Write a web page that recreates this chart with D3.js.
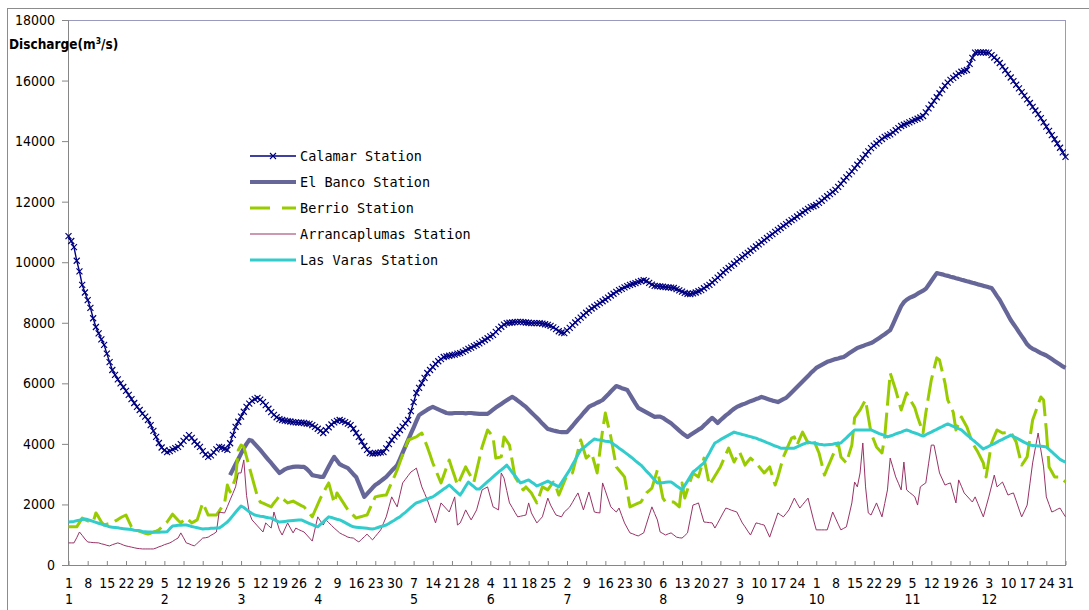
<!DOCTYPE html>
<html>
<head>
<meta charset="utf-8">
<script src="https://cdn.jsdelivr.net/npm/d3@7"></script>
<style>
  html, body { margin: 0; padding: 0; background: #ffffff; }
  svg { display: block; }
</style>
</head>
<body>
<svg id="chart" width="1089" height="610"></svg>
<script>
// Daily discharge (m3/s), day index 0 = 1 January of a 365-day year.
const calamar = [
10860,10700,10500,10050,9700,9250,9000,8750,8490,8150,
7860,7650,7450,7270,6980,6700,6440,6280,6130,6000,
5880,5750,5620,5480,5350,5220,5120,5000,4900,4790,
4620,4430,4230,4030,3880,3790,3730,3760,3820,3860,
3900,3990,4100,4200,4290,4200,4080,3980,3900,3760,
3650,3570,3620,3720,3820,3900,3880,3840,3800,4020,
4300,4560,4730,4900,5060,5220,5330,5420,5480,5520,
5460,5380,5280,5160,5050,4960,4880,4820,4790,4770,
4750,4740,4720,4710,4700,4700,4690,4670,4660,4620,
4560,4500,4430,4360,4450,4550,4640,4710,4760,4790,
4760,4720,4670,4620,4500,4360,4230,4080,3930,3800,
3700,3680,3690,3700,3720,3730,3850,3990,4130,4240,
4350,4460,4570,4680,4790,5080,5380,5680,5850,6010,
6180,6340,6440,6540,6640,6730,6800,6870,6890,6910,
6930,6950,6980,7000,7040,7090,7140,7180,7230,7270,
7320,7380,7430,7490,7550,7600,7700,7790,7870,7940,
7990,8000,8010,8020,8030,8030,8020,8010,8000,7990,
7990,7990,7990,7970,7950,7930,7900,7850,7790,7720,
7680,7660,7750,7830,7920,8010,8090,8170,8250,8330,
8400,8470,8530,8590,8650,8710,8770,8830,8900,8960,
9020,9080,9120,9170,9210,9250,9280,9310,9350,9380,
9410,9380,9320,9260,9220,9210,9200,9190,9180,9170,
9160,9150,9110,9070,9030,8990,8960,8950,8970,9000,
9040,9080,9140,9200,9250,9330,9410,9490,9570,9660,
9740,9810,9880,9950,10030,10100,10170,10240,10310,10380,
10450,10520,10590,10660,10730,10800,10870,10930,11000,11070,
11130,11200,11260,11330,11390,11450,11510,11580,11640,11700,
11760,11820,11850,11890,11960,12030,12110,12180,12250,12320,
12390,12490,12590,12700,12800,12900,13000,13110,13220,13330,
13440,13550,13660,13770,13850,13920,14000,14070,14140,14180,
14220,14290,14360,14430,14500,14540,14580,14620,14660,14700,
14740,14780,14830,14950,15080,15200,15330,15450,15580,15700,
15830,15930,16020,16090,16160,16230,16290,16320,16350,16550,
16750,16920,16930,16930,16930,16920,16920,16840,16760,16670,
16580,16460,16340,16220,16100,15980,15860,15740,15620,15500,
15380,15260,15130,15010,14890,14760,14620,14480,14340,14200,
14060,13920,13780,13630,13480];

// El Banco record begins on day index 59 (28 February)
const elBancoStart = 59;
const elBanco = [
2970,
3150,3330,3500,3680,3850,4000,4130,4100,4000,3900,
3800,3690,3580,3470,3370,3260,3150,3040,3100,3160,
3200,3220,3240,3250,3250,3240,3240,3170,3080,2970,
2950,2930,2910,2910,3080,3250,3420,3570,3450,3330,
3280,3240,3200,3100,3000,2910,2690,2470,2250,2350,
2450,2550,2640,2700,2770,2840,2910,3010,3110,3200,
3300,3500,3710,3920,4130,4340,4540,4750,4950,5010,
5070,5130,5180,5220,5180,5140,5100,5060,5020,5010,
5010,5020,5020,5020,5020,5010,5020,5020,5010,5000,
4990,4990,4990,4990,5060,5130,5200,5260,5320,5380,
5440,5500,5550,5500,5430,5360,5290,5220,5130,5040,
4950,4860,4770,4670,4580,4490,4470,4440,4420,4400,
4390,4390,4390,4490,4590,4700,4810,4910,5020,5120,
5220,5270,5310,5360,5400,5450,5540,5630,5730,5820,
5910,5880,5840,5810,5780,5630,5480,5330,5190,5140,
5090,5040,4990,4940,4890,4900,4900,4860,4800,4740,
4680,4600,4520,4440,4360,4290,4230,4290,4350,4410,
4470,4520,4610,4690,4780,4860,4780,4690,4780,4860,
4940,5010,5090,5160,5220,5260,5300,5330,5370,5410,
5440,5480,5510,5550,5520,5490,5460,5430,5410,5380,
5430,5480,5520,5610,5700,5790,5880,5970,6060,6150,
6240,6340,6420,6510,6560,6610,6660,6710,6740,6770,
6800,6820,6850,6870,6930,6990,7050,7110,7170,7200,
7230,7270,7300,7330,7380,7440,7500,7560,7620,7690,
7760,7950,8150,8350,8550,8680,8760,8820,8860,8900,
8960,9010,9060,9120,9250,9380,9510,9640,9620,9600,
9570,9550,9520,9500,9470,9450,9420,9400,9370,9350,
9320,9300,9270,9250,9220,9200,9170,9150,9020,8880,
8750,8590,8420,8260,8090,7960,7830,7690,7560,7430,
7290,7200,7140,7100,7050,7000,6960,6920,6860,6800,
6740,6680,6620,6560,6510];

const berrio = [
1260,1260,1260,1260,1400,1550,1500,1460,1430,1420,
1720,1580,1420,1320,1350,1370,1390,1450,1500,1560,
1610,1650,1450,1260,1200,1150,1110,1080,1050,1020,
1050,1090,1120,1160,1250,1340,1420,1550,1680,1580,
1480,1390,1470,1550,1470,1390,1440,1490,1770,2050,
1850,1650,1650,1650,1650,1780,1920,2050,2640,2410,
2640,2870,3800,3960,3900,3570,3240,2910,2580,2250,
2080,2040,2000,1960,1920,2050,2160,2280,2200,2130,
2050,2080,2110,2060,2010,1960,1920,1810,1700,1590,
1800,2000,2210,2380,2550,2710,2380,2050,2380,2240,
2100,1960,1820,1730,1640,1550,1580,1600,1630,1650,
1850,2050,2250,2270,2290,2300,2310,2520,2730,2930,
3140,3390,3640,3880,4130,4160,4200,4230,4300,4360,
4130,3900,3640,3370,3150,2930,2710,2960,3220,3470,
3190,2920,2640,2840,3040,3240,3070,2910,2740,3120,
3510,3900,4180,4460,4350,4230,3530,3550,3570,4230,
4100,3960,3440,2910,2770,2620,2480,2580,2480,2380,
2210,2050,2310,2580,2530,2480,2610,2740,2580,2310,
2530,2750,2970,3000,3040,3400,3770,4130,3830,3530,
3610,3700,3370,3040,3750,4460,5020,4620,4230,3740,
3240,3130,3020,2910,2410,1920,1960,2000,2040,2080,
2230,2380,2460,2540,2840,3140,2680,2210,2080,2080,
2080,2080,2000,1920,2710,2210,2490,2770,3040,2970,
2910,3220,3530,3090,2640,2790,2940,3090,3240,3450,
3660,3860,3630,3400,3570,3730,3520,3300,3420,3530,
3450,3370,3260,3150,3040,3140,3240,2940,2640,2910,
3240,3570,3780,3990,4190,4230,3960,4180,4390,4210,
4030,4080,4130,3920,3700,3340,2970,3190,3400,3610,
3820,4030,3570,3470,3370,3670,3960,4860,4990,5120,
5290,5450,4900,4360,4130,3900,3800,3700,4230,5290,
6340,6060,5780,5450,5120,5400,5680,5520,5350,5190,
4890,4630,4360,5020,5570,6110,6480,6840,6770,6390,
6010,5450,5250,5050,4460,4680,4890,4720,4560,4300,
4030,3880,3730,3550,3370,2910,3470,4030,4250,4460,
4410,4360,4370,4380,4390,4230,4060,3680,3300,3430,
3570,4180,4790,5040,5300,5550,5450,4460,3240,3080,
2910,2910,2910,2830,2740];

const arrancaplumas = [
730,730,730,900,1090,980,860,760,750,740,
735,730,700,680,650,630,670,700,730,700,
660,630,610,590,570,550,540,530,530,530,
530,530,560,600,630,670,700,730,780,840,
890,1060,900,730,700,660,630,720,800,890,
900,920,980,1030,1090,1750,1730,1720,1930,2150,
2360,2580,3040,3040,3470,2300,1720,1490,1390,1290,
1190,1090,1390,1300,1220,1750,1450,1160,990,1190,
1390,1220,1060,1220,1170,1130,1090,990,890,790,
1190,1590,1450,1320,1490,1400,1310,1220,1140,1060,
1010,970,920,900,890,820,760,850,930,1020,
920,830,940,1050,1160,1380,1590,1920,2250,2080,
1920,2320,2710,2830,2950,3070,3130,3200,2890,2580,
2370,2150,1900,1650,1390,1720,2050,1950,1850,1750,
2000,2250,1320,1390,1590,1820,1650,1490,1650,1820,
2150,2480,2530,2580,2250,1920,1870,1820,3040,2870,
2460,2050,1900,1740,1590,1610,1630,1650,2050,1720,
1550,1390,1490,1590,1900,2210,1980,1810,1650,1620,
1590,1750,1830,1920,2070,2230,2380,2100,1820,2120,
2410,2080,1750,1730,1720,2710,2450,2180,1920,1830,
1750,1880,1630,1390,1220,1060,1030,990,960,1010,
1060,1350,1640,1920,1700,1490,1090,1040,990,1030,
1060,990,920,900,890,970,1060,1520,1980,2010,
2050,1730,1420,1410,1400,1390,1220,1380,1550,1720,
1880,1850,1810,1780,1750,1570,1390,1260,1120,990,
1190,1390,1370,1340,1320,1120,920,1190,1450,1720,
1650,1590,1700,1820,2010,2210,2040,1880,1990,2100,
2210,1850,1490,1160,1160,1160,1160,1160,1450,1750,
1550,1350,1160,1210,1260,1650,2050,2740,2580,3040,
4030,2580,1720,1650,1850,2050,1820,1590,2030,2480,
3530,3220,2910,2700,2480,3400,2480,2400,2330,2250,
1980,2580,2650,2710,3340,3960,3960,3500,3040,2840,
2640,2680,2710,2380,2050,2810,2600,2380,2280,2180,
2080,2250,2030,1810,1590,1920,2250,2610,2970,2580,
2660,2740,2530,2310,2350,2380,2120,1850,1590,1780,
1980,2680,3370,3870,4360,3800,3240,2250,2000,1750,
1790,1840,1880,1730,1590];

const lasVaras = [
1420,1430,1440,1460,1480,1500,1520,1500,1470,1440,
1410,1380,1350,1320,1290,1260,1250,1240,1230,1210,
1200,1190,1180,1170,1150,1140,1130,1110,1100,1090,
1090,1080,1080,1080,1090,1090,1100,1200,1290,1300,
1310,1310,1320,1320,1300,1270,1250,1230,1210,1190,
1200,1200,1210,1210,1220,1220,1280,1350,1420,1520,
1630,1740,1850,1950,1900,1830,1760,1700,1650,1630,
1610,1600,1580,1560,1550,1500,1460,1420,1430,1440,
1450,1460,1470,1480,1490,1490,1450,1410,1370,1330,
1290,1260,1340,1420,1510,1590,1570,1540,1510,1490,
1450,1400,1350,1300,1260,1250,1240,1230,1220,1210,
1200,1190,1210,1240,1270,1290,1320,1370,1430,1480,
1540,1590,1670,1740,1820,1900,1980,2050,2080,2120,
2150,2180,2220,2250,2310,2380,2440,2510,2570,2640,
2560,2470,2390,2310,2450,2600,2740,2660,2590,2510,
2510,2590,2670,2750,2830,2910,2990,3070,3140,3220,
3300,3180,3060,2950,2830,2710,2740,2780,2810,2740,
2680,2610,2650,2690,2730,2770,2720,2680,2630,2580,
2720,2860,3000,3140,3310,3470,3640,3800,3870,3940,
4020,4090,4160,4140,4130,4110,4090,4080,4060,3990,
3930,3860,3800,3730,3660,3590,3520,3440,3370,3300,
3200,3100,3010,2910,2810,2710,2720,2720,2730,2740,
2740,2680,2610,2550,2480,2630,2770,2920,3070,3140,
3220,3300,3370,3540,3700,3870,4030,4080,4140,4190,
4240,4290,4340,4390,4360,4340,4310,4290,4260,4240,
4210,4190,4150,4120,4080,4040,4010,3970,3930,3900,
3860,3860,3860,3860,3860,3860,3900,3940,3980,4020,
4060,4040,4030,4010,3990,3980,3960,3970,3980,3990,
4010,4020,4030,4120,4200,4290,4370,4460,4460,4460,
4460,4460,4460,4460,4420,4380,4340,4310,4270,4230,
4260,4290,4330,4360,4390,4430,4460,4430,4390,4360,
4330,4290,4260,4300,4350,4390,4440,4480,4530,4570,
4620,4660,4620,4580,4540,4500,4460,4380,4300,4220,
4140,4070,3990,3910,3830,3880,3920,3970,4010,4060,
4110,4150,4200,4240,4290,4240,4200,4150,4100,4050,
4010,3960,3950,3940,3930,3920,3910,3900,3820,3740,
3650,3570,3490,3440,3400];

// Axis ticks
const yTicks = [0, 2000, 4000, 6000, 8000, 10000, 12000, 14000, 16000, 18000];
const xTickDays = d3.range(0, 365, 7);   // every 7th day from 1 January
const yearStart = Date.UTC(2001, 0, 1);  // a non-leap reference year

const series = [
  { name: "Calamar Station",       start: 0,            values: calamar,       color: "#000080", width: 1.4, dash: null,   marker: true },
  { name: "El Banco Station",      start: elBancoStart, values: elBanco,       color: "#666699", width: 4.2, dash: null,   marker: false },
  { name: "Berrio Station",        start: 0,            values: berrio,        color: "#99cc00", width: 3,   dash: "26,7", marker: false },
  { name: "Arrancaplumas Station", start: 0,            values: arrancaplumas, color: "#993366", width: 1,   dash: null,   marker: false },
  { name: "Las Varas Station",     start: 0,            values: lasVaras,      color: "#33cccc", width: 3,   dash: null,   marker: false }
];

const svg = d3.select("#chart");
const tickFont = "'DejaVu Sans Condensed', 'DejaVu Sans', sans-serif";

// Outer chart frame
svg.append("rect")
  .attr("x", 7.5).attr("y", 8.5)
  .attr("width", 1200).attr("height", 700)
  .attr("fill", "none").attr("stroke", "#8c8c8c");

const x = d3.scaleLinear().domain([0, 364]).range([68.5, 1065.5]);
const y = d3.scaleLinear().domain([0, 18000]).range([565, 20]);

// Plot-area border
svg.append("rect")
  .attr("x", x(0)).attr("y", y(18000) + 0.5)
  .attr("width", x(364) - x(0)).attr("height", y(0) - y(18000))
  .attr("fill", "none").attr("stroke", "#9a9ac0");

// Y axis
const yAxis = svg.append("g")
  .attr("transform", `translate(${x(0) - 0.5},0)`)
  .call(d3.axisLeft(y).tickValues(yTicks).tickSize(6).tickPadding(7).tickFormat(d3.format("d")));
yAxis.select(".domain").attr("stroke", "#868686");
yAxis.selectAll(".tick line").attr("stroke", "#868686");
yAxis.selectAll(".tick text")
  .attr("fill", "#000").style("font-family", tickFont).style("font-size", "14px");

// X axis: day-of-month labels, with month number under the first label of each month
const dateOf = i => new Date(yearStart + i * 86400000);
const xAxis = svg.append("g")
  .attr("transform", `translate(0,${y(0)})`)
  .call(d3.axisBottom(x).tickValues(xTickDays).tickSizeInner(-4).tickSizeOuter(0).tickPadding(13)
        .tickFormat(i => dateOf(i).getUTCDate()));
xAxis.select(".domain").attr("stroke", "#868686");
xAxis.selectAll(".tick line").attr("stroke", "#868686");
xAxis.selectAll(".tick text")
  .attr("fill", "#000").style("font-family", tickFont).style("font-size", "14px");
xAxis.selectAll(".tick")
  .filter(i => dateOf(i).getUTCDate() <= 7)
  .append("text")
  .attr("y", 29).attr("dy", "0.71em")
  .attr("fill", "#000").attr("text-anchor", "middle")
  .style("font-family", tickFont).style("font-size", "14px")
  .text(i => dateOf(i).getUTCMonth() + 1);

// Y axis title
const title = svg.append("text")
  .attr("x", 9).attr("y", 49)
  .style("font-family", tickFont).style("font-size", "13.5px").style("font-weight", "bold")
  .attr("fill", "#000");
title.append("tspan").text("Discharge(m");
title.append("tspan").attr("dy", -5).style("font-size", "8.5px").text("3");
title.append("tspan").attr("dy", 5).text("/s)");

// Series lines
const line = d3.line()
  .defined(d => d.v != null)
  .x(d => x(d.day))
  .y(d => y(d.v));

const crossPath = "M-3,-3L3,3M-3,3L3,-3";

series.forEach(s => {
  const pts = s.values.map((v, k) => ({ day: s.start + k, v }));
  svg.append("path")
    .datum(pts)
    .attr("fill", "none")
    .attr("stroke", s.color)
    .attr("stroke-width", s.width)
    .attr("stroke-linejoin", "round")
    .attr("stroke-dasharray", s.dash)
    .attr("d", line);
  if (s.marker) {
    svg.append("g").selectAll("path")
      .data(pts.filter(d => d.v != null))
      .join("path")
      .attr("transform", d => `translate(${x(d.day)},${y(d.v)})`)
      .attr("d", crossPath)
      .attr("stroke", s.color)
      .attr("stroke-width", 1.2)
      .attr("fill", "none");
  }
});

// Legend
const legend = svg.append("g").attr("transform", "translate(250,156)");
const rowGap = 26;
series.forEach((s, k) => {
  const g = legend.append("g").attr("transform", `translate(0,${k * rowGap})`);
  g.append("line")
    .attr("x1", 0).attr("x2", 46).attr("y1", 0).attr("y2", 0)
    .attr("stroke", s.color)
    .attr("stroke-width", s.width)
    .attr("stroke-dasharray", s.dash ? "20,12" : null);
  if (s.marker) {
    g.append("path").attr("transform", "translate(23,0)").attr("d", crossPath)
      .attr("stroke", s.color).attr("stroke-width", 1.1);
  }
  g.append("text")
    .attr("x", 50).attr("y", 0).attr("dy", "0.36em")
    .style("font-family", "'DejaVu Sans Mono', monospace")
    .style("font-size", "13.5px")
    .attr("fill", "#000")
    .text(s.name);
});
</script>
</body>
</html>
